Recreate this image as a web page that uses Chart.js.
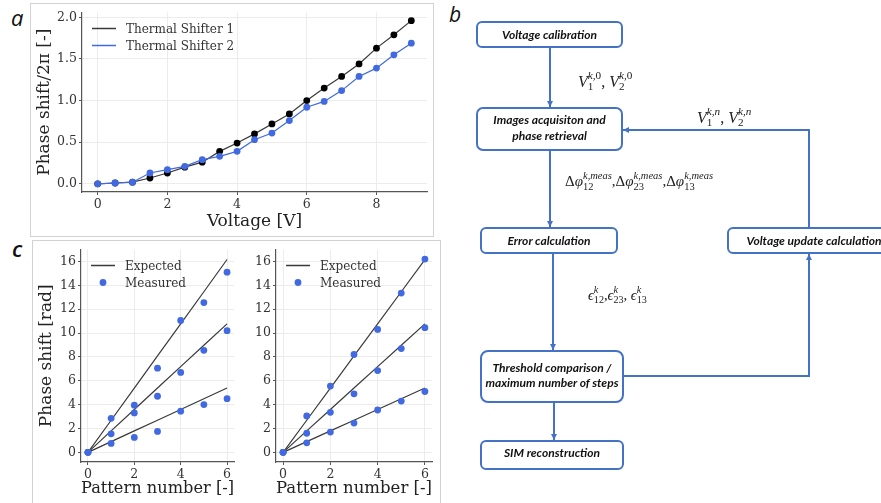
<!DOCTYPE html>
<html>
<head>
<meta charset="utf-8">
<script src="https://cdn.jsdelivr.net/npm/chart.js@4.4.1/dist/chart.umd.min.js"></script>
<style>
body { margin: 0; width: 881px; height: 503px; background: #fff; position: relative; overflow: hidden; }
.frame { position: absolute; border: 1px solid #d2d2d2; box-sizing: border-box; }
canvas { position: absolute; }
.panel { position: absolute; font-family: 'Open Sans', sans-serif; font-style: italic; font-size: 22px; color: #111; line-height: 1; }
.math { position: absolute; font-family: 'Liberation Serif', serif; font-style: italic; color: #222; white-space: nowrap; line-height: 1; }
.math .n { font-style: normal; }
.ss { display: inline-block; vertical-align: -0.32em; font-size: 0.7em; line-height: 1; }
.ss > span { display: block; }
svg { position: absolute; left: 0; top: 0; }
</style>
</head>
<body>

<div class="frame" style="left:30px;top:3px;width:404px;height:234px;"></div>
<div class="frame" style="left:32px;top:240px;width:409px;height:280px;"></div>

<div class="panel" style="left:11px;top:6px;">a</div>
<div class="panel" style="left:449px;top:4px;font-size:21px;">b</div>
<div class="panel" style="left:12px;top:237px;font-weight:600;">c</div>

<canvas id="chartA" width="404" height="233" style="left:30px;top:3px;"></canvas>
<canvas id="chartC1" width="206" height="263" style="left:32px;top:240px;"></canvas>
<canvas id="chartC2" width="200" height="263" style="left:238px;top:240px;"></canvas>

<!-- fluxograma (b) -->
<svg width="881" height="503" viewBox="0 0 881 503">
  <defs>
    <marker id="ah" markerUnits="userSpaceOnUse" markerWidth="7" markerHeight="7" refX="6" refY="3.5" orient="auto">
      <path d="M0,0.5 L6,3.5 L0,6.5 z" fill="#4472c4"/>
    </marker>
  </defs>
  <g fill="none" stroke="#4472c4" stroke-width="2">
    <line x1="550" y1="47" x2="550" y2="107" marker-end="url(#ah)"/>
    <line x1="550" y1="150" x2="550" y2="227" marker-end="url(#ah)"/>
    <polyline points="809,228 809,130 623,130" marker-end="url(#ah)"/>
    <line x1="553" y1="253" x2="553" y2="350" marker-end="url(#ah)"/>
    <polyline points="623,376 809,376 809,254" marker-end="url(#ah)"/>
    <line x1="554" y1="402" x2="554" y2="440" marker-end="url(#ah)"/>
  </g>
  <g fill="#fff" stroke="#4472c4" stroke-width="2">
    <rect x="477" y="22" width="145" height="25" rx="5"/>
    <rect x="477" y="108" width="145" height="42" rx="6"/>
    <rect x="481" y="228" width="136" height="25" rx="5"/>
    <rect x="728" y="228" width="172" height="25" rx="5"/>
    <rect x="481" y="351" width="142" height="51" rx="7"/>
    <rect x="481" y="441" width="142" height="28" rx="5"/>
  </g>
  <g font-family="Lato, sans-serif" font-weight="bold" font-style="italic" font-size="12" fill="#111" text-anchor="middle">
    <text x="549.5" y="38.5">Voltage calibration</text>
    <text x="549.5" y="123.5">Images acquisiton and</text>
    <text x="549.5" y="139.5">phase retrieval</text>
    <text x="549" y="244.5">Error calculation</text>
    <text x="814" y="244.5">Voltage update calculation</text>
    <text x="552" y="371.5">Threshold comparison /</text>
    <text x="552" y="386.5">maximum number of steps</text>
    <text x="552" y="457">SIM reconstruction</text>
  </g>
</svg>

<div class="math" style="left:578px;top:70px;font-size:16px;">V<span class="ss"><span>k,<span class="n">0</span></span><span class="n">1</span></span><span class="n">, </span>V<span class="ss"><span>k,<span class="n">0</span></span><span class="n">2</span></span></div>
<div class="math" style="left:697px;top:106px;font-size:16px;">V<span class="ss"><span>k,n</span><span class="n">1</span></span><span class="n">, </span>V<span class="ss"><span>k,n</span><span class="n">2</span></span></div>
<div class="math" style="left:565px;top:171px;font-size:15px;"><span class="n">Δ</span>φ<span class="ss"><span>k,meas</span><span class="n">12</span></span><span class="n">,</span><span class="n">Δ</span>φ<span class="ss"><span>k,meas</span><span class="n">23</span></span><span class="n">,</span><span class="n">Δ</span>φ<span class="ss"><span>k,meas</span><span class="n">13</span></span></div>
<div class="math" style="left:588px;top:285px;font-size:14.5px;">ϵ<span class="ss"><span>k</span><span class="n">12</span></span><span class="n">,</span>ϵ<span class="ss"><span>k</span><span class="n">23</span></span><span class="n">, </span>ϵ<span class="ss"><span>k</span><span class="n">13</span></span></div>

<script>
// Painel a: calibração dos deslocadores térmicos
const voltage = [0, 0.5, 1, 1.5, 2, 2.5, 3, 3.5, 4, 4.5, 5, 5.5, 6, 6.5, 7, 7.5, 8, 8.5, 9];
const shifter1 = [0, 0.01, 0.02, 0.07, 0.13, 0.2, 0.26, 0.39, 0.49, 0.6, 0.72, 0.84, 1.0, 1.15, 1.29, 1.44, 1.63, 1.79, 1.96];
const shifter2 = [0, 0.01, 0.02, 0.13, 0.17, 0.21, 0.29, 0.33, 0.39, 0.53, 0.61, 0.76, 0.92, 0.99, 1.12, 1.29, 1.39, 1.55, 1.69];
const voltageTicks = [0, 2, 4, 6, 8];
const shiftTicks = [0, 0.5, 1, 1.5, 2];

// Painel c: deslocamento esperado x medido
const pattern = [0, 1, 2, 3, 4, 5, 6];
const expected1 = [0, 0.9, 1.8, 2.69, 3.59, 4.49, 5.39];
const expected2 = [0, 1.8, 3.59, 5.39, 7.18, 8.98, 10.77];
const expected3 = [0, 2.69, 5.39, 8.08, 10.77, 13.46, 16.16];
const measuredLeft1 = [0, 0.75, 1.25, 1.75, 3.45, 4.0, 4.5];
const measuredLeft2 = [0, 1.55, 3.3, 4.7, 6.7, 8.55, 10.2];
const measuredLeft3 = [0, 2.85, 3.95, 7.05, 11.05, 12.55, 15.1];
const measuredRight1 = [0, 0.8, 1.7, 2.45, 3.55, 4.3, 5.1];
const measuredRight2 = [0, 1.6, 3.35, 4.9, 6.85, 8.7, 10.45];
const measuredRight3 = [0, 3.05, 5.55, 8.2, 10.3, 13.35, 16.2];
const patternTicks = [0, 2, 4, 6];
const radTicks = [0, 2, 4, 6, 8, 10, 12, 14, 16];

const SERIF = "'DejaVu Serif', serif";
const BLUE = '#4169e1';
const DARK = '#3a3a3a';

function xy(xs, ys) {
    return xs.map((x, i) => ({ x: x, y: ys[i] }));
}

// Eixo no estilo do matplotlib
function axis(min, max, ticks, size, title, fmt) {
    return {
        type: 'linear',
        min: min,
        max: max,
        afterBuildTicks: s => { s.ticks = ticks.map(v => ({ value: v })); },
        afterFit: s => { if (s.isHorizontal()) s.height = size; else s.width = size; },
        grid: { color: '#ececec', tickColor: '#555', tickLength: 3 },
        border: { color: '#555', width: 1.2 },
        ticks: { padding: 2, color: '#333', font: { family: SERIF, size: 12.5 }, callback: fmt || (v => String(v)) },
        title: { display: !!title, text: title, color: '#222', font: { family: SERIF, size: 17 }, padding: { top: 4, bottom: 4 } }
    };
}

// Legenda desenhada dentro da área do gráfico
const insideLegend = {
    id: 'insideLegend',
    afterDraw(chart, args, opts) {
        const { ctx, chartArea } = chart;
        ctx.save();
        ctx.font = '12px ' + SERIF;
        ctx.textBaseline = 'middle';
        opts.items.forEach((it, i) => {
            const x = chartArea.left + 10;
            const y = chartArea.top + 16 + i * 17;
            if (it.type === 'line') {
                ctx.strokeStyle = it.color;
                ctx.lineWidth = 1.5;
                ctx.beginPath();
                ctx.moveTo(x, y);
                ctx.lineTo(x + 24, y);
                ctx.stroke();
            } else {
                ctx.fillStyle = it.color;
                ctx.beginPath();
                ctx.arc(x + 12, y, 3.4, 0, Math.PI * 2);
                ctx.fill();
            }
            ctx.fillStyle = '#333';
            ctx.fillText(it.label, x + 34, y + 1);
        });
        ctx.restore();
    }
};

new Chart(document.getElementById('chartA'), {
    type: 'line',
    data: {
        datasets: [
            { label: 'Thermal Shifter 1', data: xy(voltage, shifter1), borderColor: DARK, borderWidth: 1.2, pointBackgroundColor: '#000', pointRadius: 3.4, pointBorderWidth: 0, order: 1 },
            { label: 'Thermal Shifter 2', data: xy(voltage, shifter2), borderColor: BLUE, borderWidth: 1.2, pointBackgroundColor: BLUE, pointRadius: 3.4, pointBorderWidth: 0, order: 0 }
        ]
    },
    options: {
        responsive: false, animation: false, devicePixelRatio: 1,
        layout: { padding: { top: 8, right: 7, left: 0, bottom: 0 } },
        scales: {
            x: axis(-0.45, 9.45, voltageTicks, 44, 'Voltage [V]'),
            y: axis(-0.098, 2.058, shiftTicks, 52, 'Phase shift/2π [-]', v => v.toFixed(1))
        },
        plugins: {
            legend: { display: false }, tooltip: { enabled: false },
            insideLegend: { items: [
                { type: 'line', color: DARK, label: 'Thermal Shifter 1' },
                { type: 'line', color: BLUE, label: 'Thermal Shifter 2' }
            ] }
        }
    },
    plugins: [insideLegend]
});

function patternChart(id, measured, yTitle, yWidth, padRight) {
    const expected = [expected1, expected2, expected3];
    const datasets = expected.map(e => ({
        data: xy(pattern, e), borderColor: DARK, borderWidth: 1.2, pointRadius: 0, order: 1
    })).concat(measured.map(m => ({
        data: xy(pattern, m), showLine: false, pointBackgroundColor: BLUE, pointRadius: 3.4, pointBorderWidth: 0, order: 0
    })));
    new Chart(document.getElementById(id), {
        type: 'line',
        data: { datasets: datasets },
        options: {
            responsive: false, animation: false, devicePixelRatio: 1,
            layout: { padding: { top: 7, right: padRight, left: 0, bottom: 0 } },
            scales: {
                x: axis(-0.3, 6.3, patternTicks, 41, 'Pattern number [-]'),
                y: axis(-0.81, 17.0, radTicks, yWidth, yTitle)
            },
            plugins: {
                legend: { display: false }, tooltip: { enabled: false },
                insideLegend: { items: [
                    { type: 'line', color: DARK, label: 'Expected' },
                    { type: 'dot', color: BLUE, label: 'Measured' }
                ] }
            }
        },
        plugins: [insideLegend]
    });
}

patternChart('chartC1', [measuredLeft1, measuredLeft2, measuredLeft3], 'Phase shift [rad]', 49, 2);
patternChart('chartC2', [measuredRight1, measuredRight2, measuredRight3], '', 38, 6);
</script>
</body>
</html>
